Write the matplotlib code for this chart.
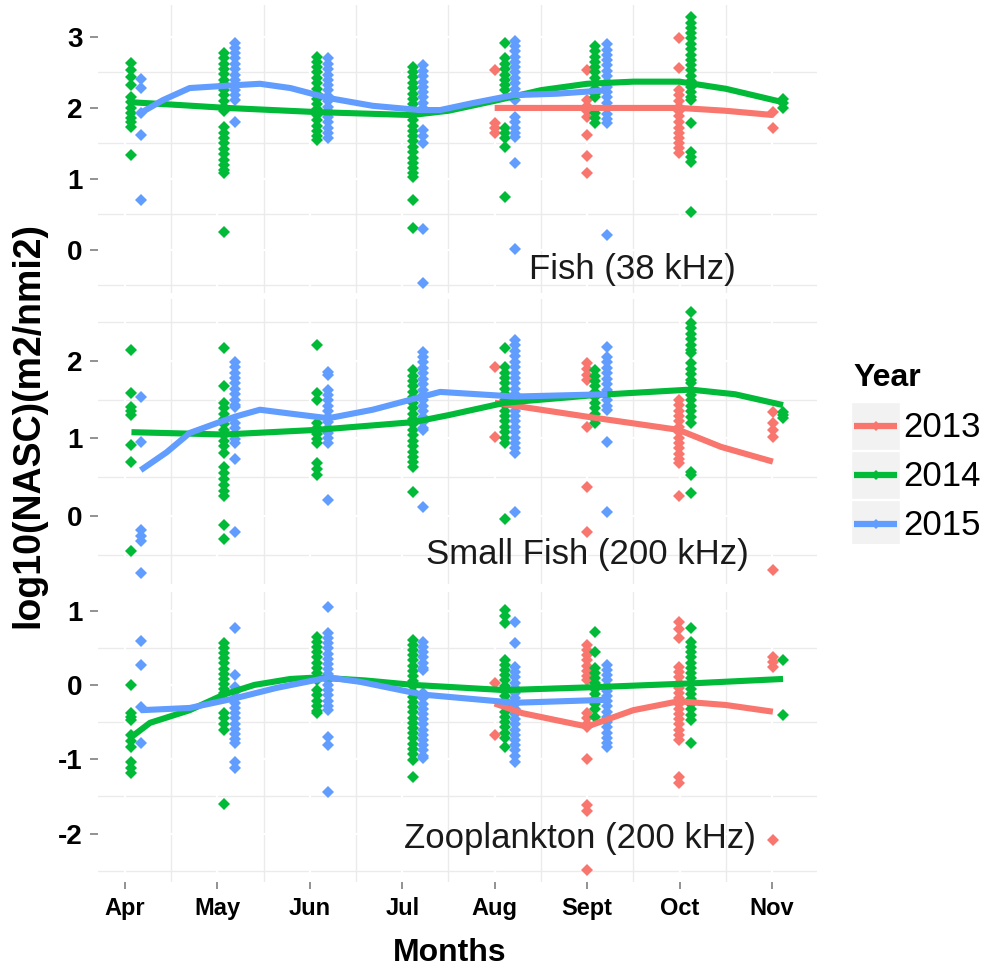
import numpy as np
import matplotlib.pyplot as plt
from matplotlib.patches import Rectangle

plt.rcParams['font.family'] = ['Liberation Sans', 'DejaVu Sans']
plt.rcParams['axes.unicode_minus'] = False

months = ['Apr', 'May', 'Jun', 'Jul', 'Aug', 'Sept', 'Oct', 'Nov']
month_pos = [4, 5, 6, 7, 8, 9, 10, 11]
years = ['2013', '2014', '2015']
colors = ['#F8766D', '#00BA38', '#619CFF']

# survey dates as fractional month number
x13 = [8.0, 9.0, 9.99, 11.01]
x14 = [4.07, 5.07, 6.08, 7.12, 8.11, 9.09, 10.12, 11.12]
x15 = [4.17, 5.19, 6.2, 7.22, 8.22, 9.22]

# ---- Fish (38 kHz) ----
fish13 = [
    [2.54, 1.79, 1.72, 1.65],
    [2.54, 2.11, 2.03, 1.95, 1.87, 1.62, 1.32, 1.08],
    [2.98, 2.56, 2.25, 2.18, 2.1, 2.02, 1.95, 1.88, 1.8, 1.72, 1.65, 1.58, 1.5, 1.43, 1.37],
    [1.94, 1.72],
]
fish14 = [
    [2.63, 2.54, 2.44, 2.32, 2.15, 2.08, 2.0, 1.93, 1.86, 1.8, 1.73, 1.34],
    [2.77, 2.7, 2.62, 2.55, 2.48, 2.4, 2.33, 2.25, 2.18, 2.1, 2.02, 1.95, 1.73, 1.65, 1.57, 1.5,
     1.42, 1.35, 1.27, 1.2, 1.12, 1.08, 0.25],
    [2.72, 2.65, 2.57, 2.5, 2.42, 2.35, 2.27, 2.2, 2.12, 2.05, 1.98, 1.9, 1.83, 1.75, 1.68, 1.6, 1.55],
    [2.58, 2.5, 2.43, 2.35, 2.28, 2.2, 2.13, 2.05, 1.98, 1.9, 1.83, 1.75, 1.68, 1.6, 1.53, 1.45,
     1.38, 1.3, 1.23, 1.15, 1.08, 1.03, 0.7, 0.31],
    [2.92, 2.7, 2.62, 2.55, 2.47, 2.4, 2.32, 2.25, 1.72, 1.65, 1.58, 1.45, 0.75],
    [2.87, 2.8, 2.72, 2.65, 2.57, 2.5, 2.42, 2.35, 2.27, 2.2, 2.16, 1.93, 1.86, 1.79],
    [3.28, 3.2, 3.13, 3.05, 2.98, 2.9, 2.83, 2.75, 2.68, 2.6, 2.53, 2.45, 2.38, 2.3, 2.23, 2.15,
     2.11, 1.79, 1.38, 1.31, 1.24, 0.54],
    [2.13, 2.07, 2.0],
]
fish15 = [
    [2.41, 2.28, 1.93, 1.62, 0.70],
    [2.92, 2.85, 2.77, 2.7, 2.62, 2.55, 2.47, 2.4, 2.32, 2.25, 2.18, 2.11, 1.8],
    [2.7, 2.62, 2.55, 2.47, 2.4, 2.32, 2.25, 2.17, 2.1, 2.02, 1.95, 1.87, 1.8, 1.72, 1.65, 1.58],
    [2.6, 2.52, 2.45, 2.37, 2.3, 2.22, 2.15, 2.07, 2.0, 1.69, 1.6, 1.5, 0.29, -0.47],
    [2.94, 2.87, 2.8, 2.72, 2.65, 2.57, 2.5, 2.42, 2.35, 2.27, 2.2, 2.11, 1.87, 1.8, 1.72, 1.65,
     1.59, 1.22, 0.02],
    [2.9, 2.82, 2.75, 2.67, 2.6, 2.52, 2.45, 2.37, 2.3, 2.22, 2.15, 2.07, 2.0, 1.92, 1.85, 1.79, 0.21],
]
# loess curves
fish13_sx = [8.0, 8.5, 9.0, 9.5, 10.0, 10.5, 11.01]
fish13_sy = [2.0, 2.0, 2.0, 2.0, 2.0, 1.96, 1.9]
fish14_sx = [4.07, 4.6, 5.1, 5.6, 6.1, 6.6, 7.1, 7.5, 8.0, 8.5, 9.0, 9.5, 10.0, 10.5, 11.12]
fish14_sy = [2.08, 2.04, 2.0, 1.97, 1.94, 1.92, 1.9, 1.96, 2.1, 2.25, 2.34, 2.37, 2.37, 2.27, 2.08]
fish15_sx = [4.17, 4.41, 4.7, 5.19, 5.46, 5.79, 6.2, 6.68, 7.19, 7.41, 7.77, 8.2, 8.67, 9.22]
fish15_sy = [1.93, 2.11, 2.28, 2.32, 2.34, 2.28, 2.14, 2.03, 1.97, 1.97, 2.07, 2.18, 2.2, 2.25]

# ---- Small Fish (200 kHz) ----
small13 = [
    [1.92, 1.02],
    [1.97, 1.9, 1.82, 1.75, 1.15, 0.37, -0.21],
    [1.5, 1.43, 1.36, 1.29, 1.22, 1.15, 1.08, 1.01, 0.94, 0.87, 0.8, 0.73, 0.68, 0.25],
    [1.34, 1.2, 1.11, 1.02, -0.7],
]
small14 = [
    [2.14, 1.59, 1.41, 1.35, 1.3, 0.92, 0.7, -0.45],
    [2.17, 1.67, 1.46, 1.39, 1.32, 1.25, 1.18, 1.11, 1.04, 0.97, 0.9, 0.81, 0.63, 0.55, 0.47, 0.4,
     0.32, 0.25, -0.12, -0.3],
    [2.2, 1.59, 1.5, 1.2, 1.13, 1.06, 0.99, 0.94, 0.68, 0.6, 0.53],
    [1.88, 1.81, 1.74, 1.67, 1.6, 1.53, 1.46, 1.39, 1.32, 1.25, 1.18, 1.11, 1.04, 0.97, 0.9, 0.83,
     0.76, 0.69, 0.63, 0.31],
    [2.17, 1.92, 1.85, 1.78, 1.71, 1.64, 1.57, 1.5, 1.43, 1.36, 1.29, 1.22, 1.15, 1.08, 1.01, 0.94, -0.04],
    [1.88, 1.81, 1.74, 1.67, 1.6, 1.53, 1.46, 1.39, 1.32, 1.25, 1.2],
    [2.63, 2.49, 2.42, 2.35, 2.28, 2.21, 2.14, 2.1, 1.97, 1.9, 1.83, 1.76, 1.72, 1.63, 1.56, 1.49,
     1.42, 1.35, 1.28, 1.2, 0.57, 0.53, 0.29],
    [1.34, 1.3, 1.26],
]
small15 = [
    [1.54, 0.95, -0.18, -0.26, -0.33, -0.74],
    [1.99, 1.92, 1.85, 1.78, 1.71, 1.64, 1.57, 1.5, 1.43, 1.41, 1.2, 1.13, 1.06, 0.99, 0.94, 0.74, -0.21],
    [1.86, 1.82, 1.63, 1.56, 1.49, 1.42, 1.35, 1.28, 1.21, 1.14, 1.07, 1.0, 0.94, 0.21],
    [2.12, 2.05, 1.98, 1.91, 1.84, 1.77, 1.7, 1.63, 1.56, 1.49, 1.42, 1.35, 1.28, 1.21, 1.14, 1.11, 0.12],
    [2.27, 2.2, 2.13, 2.06, 1.99, 1.92, 1.85, 1.78, 1.71, 1.64, 1.57, 1.5, 1.43, 1.36, 1.29, 1.22,
     1.15, 1.08, 1.01, 0.94, 0.87, 0.81, 0.05],
    [2.18, 2.05, 1.98, 1.91, 1.84, 1.77, 1.7, 1.63, 1.56, 1.49, 1.42, 1.37, 0.95, 0.05],
]
small13_sx = [8.0, 9.0, 9.99, 10.45, 11.01]
small13_sy = [1.46, 1.28, 1.11, 0.89, 0.7]
small14_sx = [4.07, 5.07, 6.08, 7.12, 7.5, 8.11, 9.09, 10.12, 10.6, 11.12]
small14_sy = [1.08, 1.05, 1.11, 1.21, 1.3, 1.46, 1.56, 1.63, 1.57, 1.43]
small15_sx = [4.17, 4.45, 4.7, 5.0, 5.19, 5.46, 5.79, 6.2, 6.68, 7.22, 7.41, 8.22, 9.22]
small15_sy = [0.59, 0.82, 1.07, 1.2, 1.28, 1.37, 1.32, 1.26, 1.37, 1.54, 1.6, 1.54, 1.57]

# ---- Zooplankton (200 kHz) ----
zoo13 = [
    [0.03, -0.67],
    [0.54, 0.47, 0.4, 0.33, 0.26, 0.19, 0.12, 0.07, -0.38, -0.45, -0.52, -0.57, -0.99, -1.62, -1.7, -2.49],
    [0.85, 0.75, 0.63, 0.24, 0.17, 0.1, 0.03, -0.04, -0.11, -0.18, -0.25, -0.32, -0.39, -0.46, -0.53,
     -0.6, -0.67, -0.74, -1.24, -1.32],
    [0.38, 0.31, 0.24, -2.09],
]
zoo14 = [
    [0.0, -0.38, -0.43, -0.47, -0.67, -0.75, -0.83, -1.04, -1.12, -1.19],
    [0.57, 0.5, 0.43, 0.36, 0.29, 0.22, 0.15, 0.08, 0.01, -0.06, -0.11, -0.38, -0.45, -0.53, -0.61, -1.6],
    [0.65, 0.58, 0.51, 0.44, 0.37, 0.3, 0.23, 0.16, 0.09, 0.07, -0.07, -0.14, -0.21, -0.28, -0.35, -0.38],
    [0.61, 0.54, 0.47, 0.4, 0.33, 0.26, 0.19, 0.12, 0.05, -0.02, -0.09, -0.16, -0.23, -0.3, -0.37,
     -0.44, -0.51, -0.58, -0.65, -0.72, -0.79, -0.86, -0.93, -1.01, -1.24],
    [1.01, 0.92, 0.83, 0.34, 0.27, 0.2, 0.13, 0.06, -0.01, -0.08, -0.15, -0.22, -0.29, -0.36, -0.43,
     -0.5, -0.57, -0.64, -0.71, -0.83],
    [0.71, 0.44, 0.23, 0.16, 0.09, 0.02, -0.05, -0.12, -0.19, -0.26, -0.33, -0.43],
    [0.77, 0.58, 0.51, 0.44, 0.37, 0.3, 0.23, 0.16, 0.09, 0.02, -0.05, -0.12, -0.19, -0.26, -0.33,
     -0.4, -0.47, -0.78],
    [0.34, -0.4],
]
zoo15 = [
    [0.59, 0.27, -0.3, -0.78],
    [0.77, 0.13, -0.03, -0.1, -0.17, -0.24, -0.31, -0.38, -0.45, -0.52, -0.59, -0.66, -0.73, -0.78,
     -1.04, -1.12],
    [1.05, 0.7, 0.63, 0.56, 0.49, 0.42, 0.35, 0.28, 0.21, 0.14, 0.07, 0.0, -0.07, -0.14, -0.21, -0.28,
     -0.34, -0.7, -0.81, -1.44],
    [0.58, 0.51, 0.44, 0.37, 0.3, 0.23, 0.2, -0.11, -0.18, -0.25, -0.32, -0.39, -0.46, -0.53, -0.6,
     -0.67, -0.74, -0.81, -0.88, -0.95, -0.98],
    [0.85, 0.57, 0.24, 0.17, 0.1, 0.03, -0.04, -0.11, -0.18, -0.25, -0.32, -0.39, -0.46, -0.53, -0.6,
     -0.67, -0.74, -0.81, -0.88, -0.95, -1.04],
    [0.27, 0.2, 0.13, 0.06, -0.01, -0.08, -0.15, -0.22, -0.29, -0.36, -0.43, -0.5, -0.57, -0.64,
     -0.71, -0.78, -0.83],
]
zoo13_sx = [8.0, 8.3, 9.0, 9.5, 9.99, 10.5, 11.01]
zoo13_sy = [-0.25, -0.38, -0.56, -0.34, -0.22, -0.27, -0.36]
zoo14_sx = [4.07, 4.27, 4.7, 5.07, 5.4, 5.79, 6.08, 6.6, 7.12, 8.11, 9.09, 10.12, 11.12]
zoo14_sy = [-0.7, -0.51, -0.34, -0.13, 0.0, 0.08, 0.1, 0.06, 0.0, -0.07, -0.03, 0.02, 0.08]
zoo15_sx = [4.17, 4.7, 5.19, 5.64, 6.2, 6.55, 7.22, 8.22, 9.22]
zoo15_sy = [-0.34, -0.31, -0.18, -0.04, 0.1, 0.04, -0.13, -0.24, -0.2]

panels = [
    dict(pts=[(x13, fish13), (x14, fish14), (x15, fish15)],
         smooth=[(fish13_sx, fish13_sy), (fish14_sx, fish14_sy), (fish15_sx, fish15_sy)],
         ylim=(-0.6, 3.45), ticks=[0, 1, 2, 3], label='Fish (38 kHz)', lab_xy=(9.49, -0.28),
         rect=[0.0982, 0.699, 0.7204, 0.2959]),
    dict(pts=[(x13, small13), (x14, small14), (x15, small15)],
         smooth=[(small13_sx, small13_sy), (small14_sx, small14_sy), (small15_sx, small15_sy)],
         ylim=(-0.88, 2.8), ticks=[0, 1, 2], label='Small Fish (200 kHz)', lab_xy=(9.0, -0.5),
         rect=[0.0982, 0.3992, 0.7204, 0.2932]),
    dict(pts=[(x13, zoo13), (x14, zoo14), (x15, zoo15)],
         smooth=[(zoo13_sx, zoo13_sy), (zoo14_sx, zoo14_sy), (zoo15_sx, zoo15_sy)],
         ylim=(-2.65, 1.25), ticks=[-2, -1, 0, 1], label='Zooplankton (200 kHz)', lab_xy=(8.92, -2.06),
         rect=[0.0982, 0.0926, 0.7204, 0.2984]),
]

fig = plt.figure(figsize=(9.98, 9.72), dpi=100)

for i, p in enumerate(panels):
    ax = fig.add_axes(p['rect'])
    ax.set_xlim(3.708, 11.487)
    ax.set_ylim(*p['ylim'])
    lo, hi = p['ylim']
    # grey minor grid, white major grid on top (ggplot look)
    for v in np.arange(np.floor(lo) + 0.5, hi, 1.0):
        ax.axhline(v, color='#ebebeb', lw=1.0, zorder=1)
    for m in month_pos[:-1]:
        ax.axvline(m + 0.5, color='#ebebeb', lw=1.0, zorder=1)
    for v in p['ticks']:
        ax.axhline(v, color='white', lw=1.6, zorder=1.5)
    for m in month_pos:
        ax.axvline(m, color='white', lw=1.6, zorder=1.5)

    for (xs, cols), c in zip(p['pts'], colors):
        for x, vals in zip(xs, cols):
            ax.plot([x] * len(vals), vals, 'D', ms=6, color=c, mew=0, zorder=3)
    for (sx, sy), c in zip(p['smooth'], colors):
        ax.plot(sx, sy, '-', color=c, lw=4.4, zorder=4, solid_capstyle='butt', solid_joinstyle='round')

    ax.text(p['lab_xy'][0], p['lab_xy'][1], p['label'], fontsize=25, color='#1a1a1a',
            ha='center', va='center', zorder=5)

    for s in ax.spines.values():
        s.set_visible(False)
    ax.set_yticks(p['ticks'])
    ax.set_yticklabels([str(t) for t in p['ticks']], fontsize=20, fontweight='bold')
    ax.tick_params(axis='y', length=6, width=1.2, color='#7f7f7f', pad=5)
    if i == 2:
        ax.set_xticks(month_pos)
        ax.set_xticklabels(months, fontsize=17, fontweight='bold')
        ax.tick_params(axis='x', length=5, width=1.2, color='#7f7f7f', pad=6)
    else:
        ax.set_xticks([])

fig.text(0.028, 0.563, 'log10(NASC)(m2/nmi2)', rotation=90, fontsize=27, fontweight='bold',
         ha='center', va='center')
fig.text(0.451, 0.0195, 'Months', fontsize=23, fontweight='bold', ha='center', va='center')

# legend drawn by hand (grey key boxes like ggplot)
lg = fig.add_axes([0.85, 0.44, 0.15, 0.2])
lg.set_xlim(0, 150)
lg.set_ylim(194, 0)
lg.axis('off')
lg.text(5, 28, 'Year', fontsize=23, fontweight='bold', va='center', ha='left')
for k, (yr, c) in enumerate(zip(years, colors)):
    y0 = 52 + k * 49
    lg.add_patch(Rectangle((3, y0), 49, 48, facecolor='#f2f2f2', edgecolor='white', lw=1))
    lg.plot([6, 49], [y0 + 24, y0 + 24], '-', color=c, lw=4.5, solid_capstyle='butt')
    lg.plot([27.5], [y0 + 24], 'D', ms=5, color=c, mew=0)
    lg.text(55, y0 + 25, yr, fontsize=25, va='center', ha='left')

fig.savefig('out.png', dpi=100)
